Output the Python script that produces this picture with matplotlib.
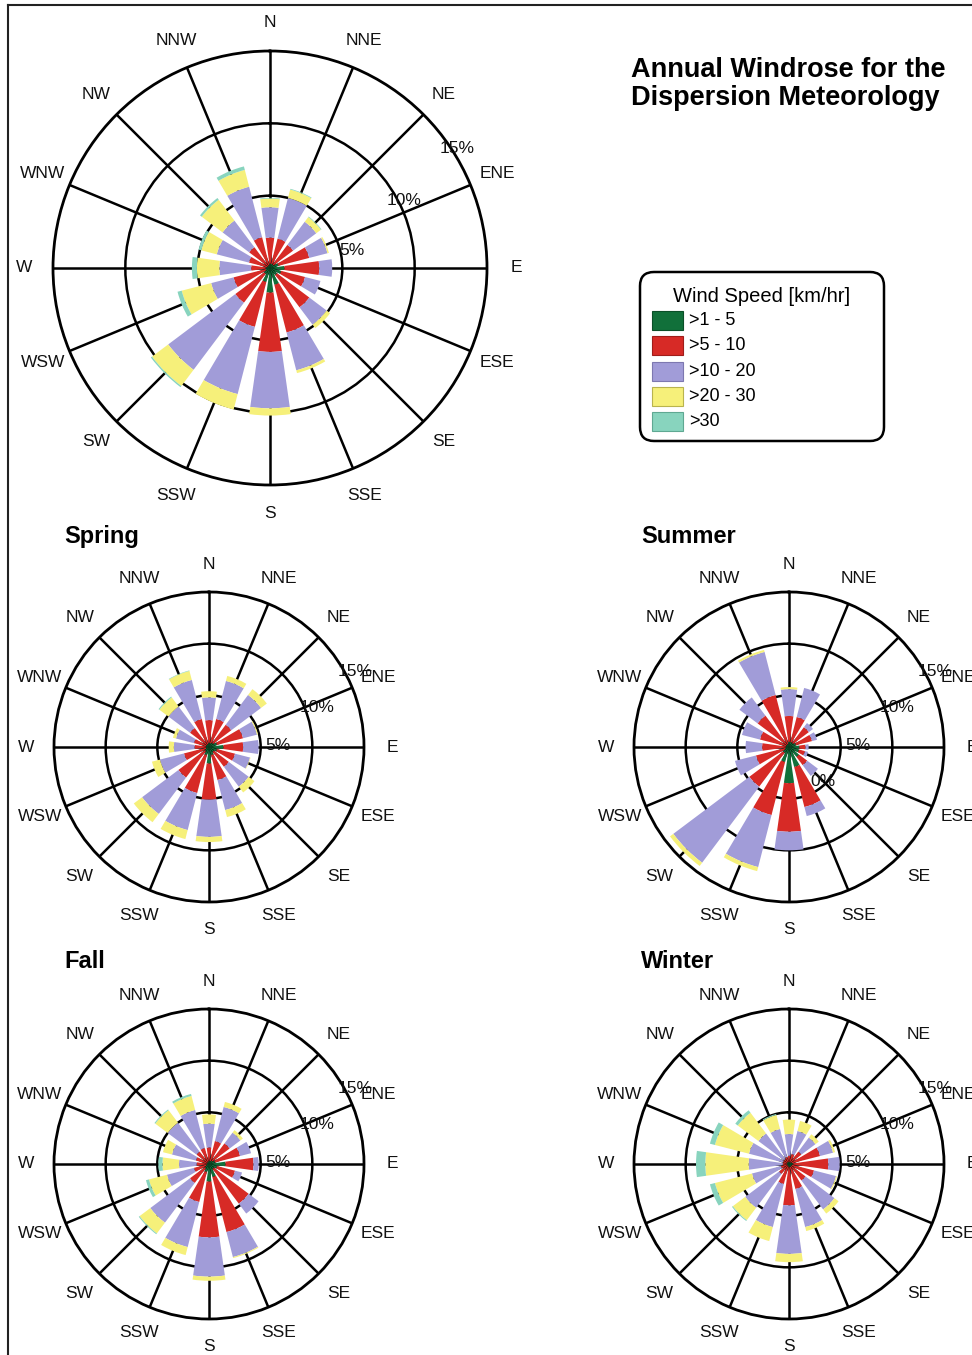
import numpy as np
import matplotlib
matplotlib.use("Agg")
import matplotlib.pyplot as plt
from matplotlib.patches import FancyBboxPatch, Rectangle

plt.rcParams['font.family'] = ['Liberation Sans', 'DejaVu Sans']

# ---------------- data ----------------
directions = ["N", "NNE", "NE", "ENE", "E", "ESE", "SE", "SSE",
              "S", "SSW", "SW", "WSW", "W", "WNW", "NW", "NNW"]
speed_classes = [">1 - 5", ">5 - 10", ">10 - 20", ">20 - 30", ">30"]
class_colors = ["#11703a", "#d72a26", "#a19cd8", "#f6f07a", "#88d4be"]
class_edges = ["#0b4f28", "#a01d1a", "#7d78b0", "#b9b44e", "#5fa892"]

# frequency (%) per speed class, per direction (N..NNW)
annual = [
    [0.3, 0.3, 0.3, 0.6, 1.0, 0.8, 0.6, 1.2, 1.7, 1.0, 0.5, 0.3, 0.3, 0.2, 0.2, 0.2],
    [1.8, 1.8, 1.7, 2.2, 2.4, 1.7, 2.8, 3.4, 4.1, 3.2, 2.5, 2.3, 1.0, 1.3, 1.6, 2.0],
    [2.1, 2.9, 2.0, 1.3, 0.9, 1.1, 1.5, 2.7, 3.9, 4.8, 5.8, 1.6, 2.2, 2.3, 2.3, 3.6],
    [0.6, 0.6, 0.4, 0.1, 0.0, 0.0, 0.3, 0.2, 0.5, 1.1, 1.4, 2.1, 1.55, 1.1, 1.8, 1.2],
    [0.05, 0.05, 0.05, 0.0, 0.0, 0.0, 0.0, 0.0, 0.0, 0.0, 0.1, 0.3, 0.35, 0.2, 0.15, 0.25],
]
spring = [
    [0.4, 0.4, 0.5, 0.8, 1.4, 0.8, 0.6, 0.8, 1.6, 0.8, 0.5, 0.3, 0.3, 0.3, 0.3, 0.3],
    [2.2, 2.4, 2.2, 2.6, 1.9, 1.8, 1.8, 2.5, 3.5, 3.8, 3.2, 2.2, 1.1, 1.2, 2.0, 2.5],
    [2.2, 3.8, 3.6, 1.4, 1.5, 1.5, 2.4, 3.0, 3.6, 3.7, 4.4, 2.4, 2.0, 1.8, 2.6, 3.9],
    [0.6, 0.5, 0.7, 0.1, 0.0, 0.05, 0.7, 0.7, 0.5, 0.9, 1.0, 0.8, 0.5, 0.3, 1.1, 0.9],
    [0.0, 0.0, 0.0, 0.0, 0.0, 0.0, 0.0, 0.0, 0.0, 0.0, 0.0, 0.0, 0.0, 0.0, 0.1, 0.05],
]
summer = [
    [0.5, 0.5, 0.5, 0.7, 1.0, 1.0, 1.2, 2.0, 3.5, 1.5, 0.7, 0.4, 0.3, 0.3, 0.3, 0.3],
    [2.5, 2.5, 1.9, 1.6, 0.6, 0.6, 1.0, 4.0, 4.7, 5.3, 4.1, 2.9, 2.3, 2.6, 3.5, 4.9],
    [2.6, 2.9, 0.5, 0.5, 0.3, 0.3, 1.3, 0.9, 1.8, 5.2, 9.2, 2.1, 1.6, 1.8, 2.2, 4.3],
    [0.2, 0.0, 0.0, 0.0, 0.0, 0.0, 0.0, 0.0, 0.0, 0.4, 0.4, 0.0, 0.0, 0.0, 0.0, 0.2],
    [0.0] * 16,
]
fall = [
    [0.3, 0.3, 0.4, 0.6, 1.6, 0.8, 0.6, 1.3, 1.7, 0.8, 0.5, 0.3, 0.2, 0.2, 0.2, 0.2],
    [1.3, 2.0, 2.1, 2.5, 2.7, 1.8, 4.2, 5.5, 5.4, 3.0, 1.8, 1.2, 1.0, 1.1, 1.3, 1.4],
    [2.3, 3.4, 1.3, 1.1, 0.5, 0.7, 1.2, 2.5, 3.8, 4.5, 4.8, 2.7, 1.7, 2.4, 3.5, 3.8],
    [0.9, 0.5, 0.3, 0.0, 0.0, 0.0, 0.0, 0.1, 0.4, 0.8, 1.3, 1.8, 1.6, 0.9, 1.5, 1.4],
    [0.0, 0.0, 0.0, 0.0, 0.0, 0.0, 0.0, 0.0, 0.0, 0.0, 0.1, 0.3, 0.4, 0.0, 0.1, 0.2],
]
winter = [
    [0.2, 0.2, 0.2, 0.3, 0.4, 0.3, 0.3, 0.3, 0.3, 0.2, 0.2, 0.2, 0.2, 0.2, 0.2, 0.2],
    [0.6, 0.8, 1.3, 2.8, 3.4, 2.2, 1.7, 2.2, 3.7, 1.8, 1.0, 0.6, 0.4, 0.4, 0.4, 0.5],
    [2.1, 2.3, 1.7, 1.3, 1.1, 2.2, 3.5, 3.8, 4.7, 4.3, 4.1, 2.9, 3.3, 3.4, 3.1, 2.8],
    [1.4, 1.0, 0.4, 0.2, 0.0, 0.1, 0.5, 0.4, 0.8, 1.4, 1.5, 3.7, 4.2, 3.4, 2.5, 1.4],
    [0.0, 0.0, 0.0, 0.0, 0.0, 0.0, 0.0, 0.0, 0.0, 0.0, 0.1, 0.5, 0.9, 0.5, 0.3, 0.1],
]
ring_values = [5, 10, 15]
ring_labels = ["5%", "10%", "15%"]

# ---------------- figure ----------------
W, H = 972, 1355
fig = plt.figure(figsize=(W / 100, H / 100), dpi=100)
fig.patch.set_facecolor("white")


def draw_rose(cx, cy, R, data, lab_r, pct_pos, extra=None):
    ax = fig.add_axes([(cx - R) / W, 1 - (cy + R) / H, 2 * R / W, 2 * R / H],
                      projection="polar")
    ax.set_theta_zero_location("N")
    ax.set_theta_direction(-1)
    theta = np.radians(np.arange(len(directions)) * 22.5)
    bottom = np.zeros(len(directions))
    for vals, c in zip(data, class_colors):
        v = np.array(vals, dtype=float)
        ax.bar(theta, v, width=np.radians(22.5) * 0.72, bottom=bottom,
               color=c, edgecolor="none", linewidth=0, zorder=2)
        bottom += v
    ax.set_ylim(0, 15)
    ax.set_xticks(theta)
    ax.set_xticklabels([])
    ax.set_yticks(ring_values[:-1])
    ax.set_yticklabels([])
    ax.tick_params(length=0)
    ax.grid(True, color="black", lw=1.8)
    ax.set_axisbelow(True)
    ax.spines["polar"].set_linewidth(2.0)
    for t, name in zip(theta, directions):
        ax.text(t, lab_r, name, ha="center", va="center", fontsize=12.5,
                color="#111111", clip_on=False)
    for (rr, bb), s in zip(pct_pos, ring_labels):
        ax.text(np.radians(bb), rr, s, ha="center", va="center",
                fontsize=12.5, color="#111111", clip_on=False, zorder=5)
    if extra is not None:
        rr, bb, s = extra
        ax.text(np.radians(bb), rr, s, ha="center", va="center",
                fontsize=12.5, color="#111111", clip_on=False, zorder=5)
    return ax


annual_pct = [(5.8, 78.3), (10.4, 63.3), (15.35, 57.3)]
season_pct = [(6.7, 89.0), (11.1, 70.1), (15.9, 62.8)]

draw_rose(270, 268, 217, annual, 17.0, annual_pct)
draw_rose(209, 747, 155, spring, 17.7, season_pct)
draw_rose(789, 747, 155, summer, 17.7, season_pct, extra=(4.7, 135.8, "0%"))
draw_rose(209, 1164, 155, fall, 17.7, season_pct)
draw_rose(789, 1164, 155, winter, 17.7, season_pct)

# ---------------- overlay (pixel coordinates) ----------------
ov = fig.add_axes([0, 0, 1, 1])
ov.set_xlim(0, W)
ov.set_ylim(H, 0)
ov.axis("off")
ov.patch.set_alpha(0)

# page border
ov.plot([7.5, 7.5], [5, H], color="#222222", lw=1.5, clip_on=False)
ov.plot([7.5, W], [5, 5], color="#222222", lw=1.5, clip_on=False)

# title
ov.text(631, 77, "Annual Windrose for the", fontsize=19.5, fontweight="bold",
        ha="left", va="baseline")
ov.text(631, 105, "Dispersion Meteorology", fontsize=19.5, fontweight="bold",
        ha="left", va="baseline")

# season titles
ov.text(64, 543, "Spring", fontsize=17, fontweight="bold", va="baseline")
ov.text(641, 543, "Summer", fontsize=17, fontweight="bold", va="baseline")
ov.text(64, 968, "Fall", fontsize=17, fontweight="bold", va="baseline")
ov.text(641, 968, "Winter", fontsize=17, fontweight="bold", va="baseline")

# legend
box = FancyBboxPatch((653, 285), 218, 143,
                     boxstyle="round,pad=13,rounding_size=14",
                     facecolor="white", edgecolor="black", lw=1.8)
ov.add_patch(box)
ov.text(762, 297, "Wind Speed [km/hr]", fontsize=14.5, ha="center", va="center")
for i, (lab, c, ec) in enumerate(zip(speed_classes, class_colors, class_edges)):
    yc = 320.7 + i * 25.2
    ov.add_patch(Rectangle((652, yc - 9.5), 31, 19, facecolor=c,
                           edgecolor=ec, lw=0.8))
    ov.text(689, yc, lab, fontsize=13, ha="left", va="center")

fig.savefig("out.png", dpi=100, facecolor="white")
